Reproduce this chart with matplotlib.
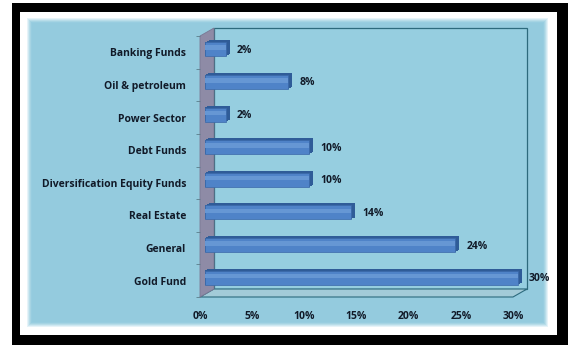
import matplotlib.pyplot as plt
from matplotlib.patches import Rectangle, Polygon
from matplotlib.transforms import ScaledTranslation
import numpy as np

categories = ['Banking Funds', 'Oil & petroleum', 'Power Sector', 'Debt Funds',
              'Diversification Equity Funds', 'Real Estate', 'General', 'Gold Fund']
values = [2, 8, 2, 10, 10, 14, 24, 30]
xticks = [0, 5, 10, 15, 20, 25, 30]
xtick_labels = ['0%', '5%', '10%', '15%', '20%', '25%', '30%']

FONT = 'Open Sans'
W, H = 568, 345
fig = plt.figure(figsize=(W / 100, H / 100), dpi=100)
fig.patch.set_facecolor('white')


def px_rect(x0, y0, x1, y1, **kw):
    # rectangle given in pixel coords from the top-left corner
    r = Rectangle((x0 / W, 1 - y1 / H), (x1 - x0) / W, (y1 - y0) / H,
                  transform=fig.transFigure, zorder=-5, **kw)
    fig.patches.append(r)
    return r


# black frame, white mat, light blue panel with a soft edge
px_rect(12, 3, 568, 345, facecolor='black', edgecolor='none')
px_rect(20, 12, 557, 335, facecolor='white', edgecolor='none')
glow = ['#e6f3f8', '#cfe8f1', '#b8dde9', '#a6d4e3', '#98cde0']
for k, c in enumerate(glow):
    px_rect(27 + k, 18 + k, 548 - k, 327 - k, facecolor=c, edgecolor='none')
px_rect(32, 23, 543, 322, facecolor='#94cbde', edgecolor='none')

# front plane of the plot box
x0, x1, ytop, ybot = 200, 513, 36, 297
ax = fig.add_axes([x0 / W, 1 - ybot / H, (x1 - x0) / W, (ybot - ytop) / H])
ax.set_facecolor('none')
for s in ax.spines.values():
    s.set_visible(False)

n = len(categories)
ypos = np.arange(n)

# depth of the 3D box in pixels
dx, dy = 14, 8
dxa, dya = dx / (x1 - x0), dy / (ybot - ytop)

def shift(px, py):
    return ScaledTranslation(px / 100, py / 100, fig.dpi_scale_trans)

# back wall
ax.add_patch(Rectangle((0, 0), 1, 1, transform=ax.transAxes + shift(dx, dy),
                       facecolor='#96cee0', edgecolor='#2d6a7d', lw=0.9,
                       zorder=0, clip_on=False))
# floor
ax.add_patch(Polygon([(0, 0), (1, 0), (1 + dxa, dya), (dxa, dya)], closed=True,
                     transform=ax.transAxes, facecolor='#a3cbd8',
                     edgecolor='#2d6a7d', lw=0.8, zorder=0.5, clip_on=False))
# left wall
ax.add_patch(Polygon([(0, 0), (0, 1), (dxa, 1 + dya), (dxa, dya)], closed=True,
                     transform=ax.transAxes, facecolor='#8e8ba6',
                     edgecolor='#7a7894', lw=0.6, zorder=0.6, clip_on=False))

# bars: darker extrusion behind, lighter front face
front = np.array([5.0, 3.0])
back = np.array([9.0, 5.0])
for t in np.linspace(1, 0.1, 8):
    ox, oy = front + t * (back - front)
    bars = ax.barh(ypos, values, height=0.43, color='#2f5c98', edgecolor='none',
                   transform=ax.transData + shift(ox, oy), zorder=2)
    for b in bars:
        b.set_clip_on(False)
bars = ax.barh(ypos, values, height=0.43, color='#4f83c8', edgecolor='#3a68a8',
               lw=0.5, transform=ax.transData + shift(*front), zorder=3)
for b in bars:
    b.set_clip_on(False)
bars = ax.barh(ypos - 0.05, values, height=0.14, color='#6697d4', edgecolor='none',
               transform=ax.transData + shift(*front), zorder=3.5)
for b in bars:
    b.set_clip_on(False)

for y, v in zip(ypos, values):
    ax.text(v, y, f'{v}%', transform=ax.transData + shift(16, 2),
            ha='left', va='center', fontsize=7.5, fontweight='bold',
            family=FONT, color='#111a28', zorder=5)

ax.set_xlim(0, 30)
ax.set_ylim(n - 0.5, -0.5)
ax.set_xticks(xticks)
ax.set_xticklabels(xtick_labels)
ax.set_yticks(ypos)
ax.set_yticklabels(categories)
ax.tick_params(axis='both', length=0, labelsize=7.5, labelcolor='#111a28')
ax.tick_params(axis='x', pad=10)
ax.tick_params(axis='y', pad=10)
for lab in ax.get_xticklabels() + ax.get_yticklabels():
    lab.set_fontweight('bold')
    lab.set_family(FONT)

# small tick marks on the wall and floor edges
ax.set_yticks(np.arange(n + 1) - 0.5, minor=True)
ax.set_xticks(xticks, minor=True)
ax.tick_params(which='minor', length=3, color='#5a7d8a', width=0.6)

fig.savefig('out.png', dpi=100)
